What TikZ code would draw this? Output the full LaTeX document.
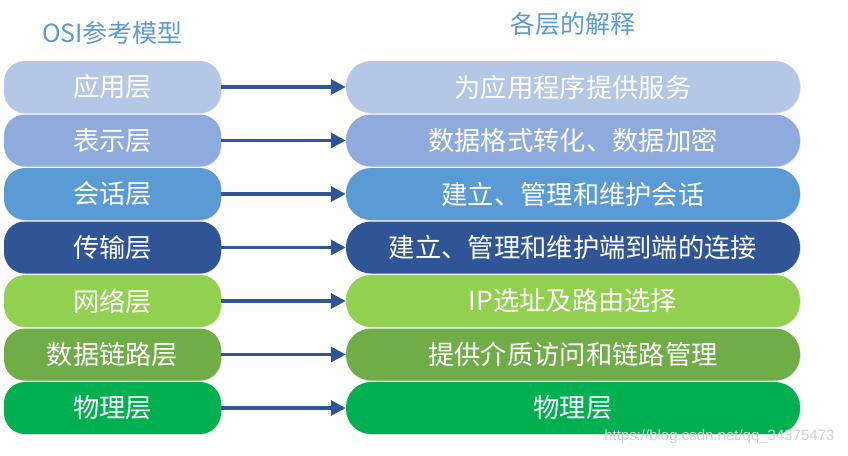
\documentclass[tikz,border=0pt]{standalone}
\usepackage{fontspec}
\setmainfont{Noto Sans CJK SC}
\newfontfamily\wmfont{Liberation Sans}
\usetikzlibrary{arrows.meta,shadows}
\definecolor{cA}{HTML}{B4C7E7}
\definecolor{cB}{HTML}{8FAADC}
\definecolor{cC}{HTML}{5B9BD5}
\definecolor{cD}{HTML}{2F5597}
\definecolor{cE}{HTML}{92D050}
\definecolor{cF}{HTML}{70AD47}
\definecolor{cG}{HTML}{00B050}
\definecolor{ttl}{HTML}{5B9BD5}
\begin{document}
\begin{tikzpicture}[x=1pt,y=-1pt,
  layer/.style={rounded corners=21pt, minimum height=52pt, inner sep=0pt,
    text=white, font=\fontsize{26.3}{26.3}\selectfont,
    drop shadow={opacity=0.18, shadow xshift=0.8pt, shadow yshift=-0.8pt}},
  leftbox/.style={layer, minimum width=217pt},
  rightbox/.style={layer, minimum width=454pt, rounded corners=25pt},
  conn/.style={draw=cD, line width=3.5pt, -{Triangle[length=15pt,width=15pt]}},
  title/.style={text=ttl, font=\fontsize{25}{25}\selectfont}]
\useasboundingbox (0,0) rectangle (848,455);
\node[title] (t1) at (112.5,33) {OSI参考模型};
\node[title] (t2) at (573,24) {各层的解释};
\foreach \i/\c/\l/\r in {0/cA/应用层/为应用程序提供服务,
  1/cB/表示层/数据格式转化、数据加密,
  2/cC/会话层/建立、管理和维护会话,
  3/cD/传输层/建立、管理和维护端到端的连接,
  4/cE/网络层/IP选址及路由选择,
  5/cF/数据链路层/提供介质访问和链路管理,
  6/cG/物理层/物理层}{
  \node[leftbox, fill=\c] (L\i) at (112.5,{87+53.5*\i}) {\l};
  \node[rightbox, fill=\c] (R\i) at (573,{87+53.5*\i}) {\r};
}
\foreach \i in {0,...,6}{
  \draw[conn] (L\i.east) -- (R\i.west);
}
\node[text=gray!35, font=\wmfont\fontsize{15}{15}\selectfont, anchor=east] (wm) at (838,437) {https://blog.csdn.net/qq\_34375473};
\end{tikzpicture}
\end{document}
